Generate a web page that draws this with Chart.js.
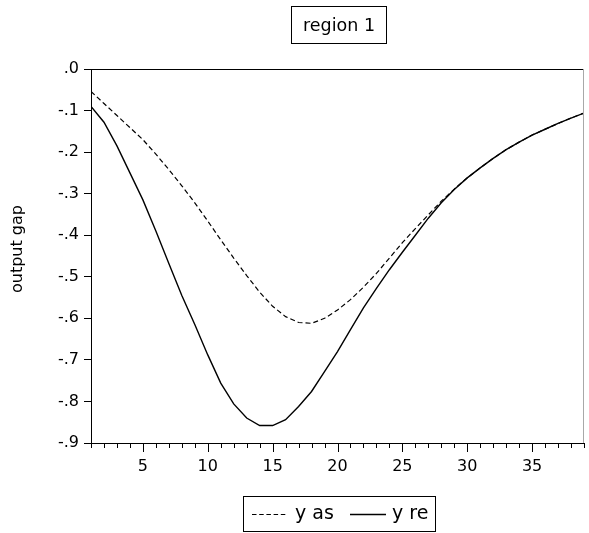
<!DOCTYPE html>
<html>
<head>
<meta charset="utf-8">
<title>region 1</title>
<script src="https://cdn.jsdelivr.net/npm/chart.js@4"></script>
<style>
	html, body { margin: 0; padding: 0; background: #fff; }
	canvas { display: block; }
</style>
</head>
<body>
<canvas id="chart" width="589" height="533"></canvas>
<script>
// --- data ------------------------------------------------------------------

const chartTitle = 'region 1';
const yAxisTitle = 'output gap';
const seriesNames = ['y as', 'y re'];

const periods = [1, 2, 3, 4, 5, 6, 7, 8, 9, 10, 11, 12, 13, 14, 15, 16, 17, 18, 19, 20,
	21, 22, 23, 24, 25, 26, 27, 28, 29, 30, 31, 32, 33, 34, 35, 36, 37, 38, 39];

const yAs = [-0.054, -0.083, -0.112, -0.141, -0.170, -0.205, -0.242, -0.281, -0.322, -0.366,
	-0.411, -0.455, -0.497, -0.537, -0.571, -0.596, -0.610, -0.612, -0.600, -0.580,
	-0.555, -0.525, -0.492, -0.455, -0.418, -0.384, -0.351, -0.318, -0.289, -0.262,
	-0.238, -0.215, -0.194, -0.176, -0.159, -0.145, -0.131, -0.118, -0.106];

const yRe = [-0.090, -0.128, -0.185, -0.250, -0.315, -0.390, -0.468, -0.545, -0.615, -0.688,
	-0.756, -0.806, -0.840, -0.858, -0.858, -0.844, -0.812, -0.776, -0.728, -0.680,
	-0.627, -0.575, -0.528, -0.483, -0.441, -0.400, -0.359, -0.322, -0.290, -0.262,
	-0.238, -0.215, -0.194, -0.176, -0.159, -0.145, -0.131, -0.118, -0.106];

const yTickValues = [0, -0.1, -0.2, -0.3, -0.4, -0.5, -0.6, -0.7, -0.8, -0.9];
const xLabelEvery = 5;

// --- helpers ---------------------------------------------------------------

const FONT = '"DejaVu Sans", Arial, sans-serif';
const dashAs = [5, 3];

function points(values) {
	return periods.map((p, i) => ({ x: p, y: values[i] }));
}

function fmtTick(v) {
	const tenth = Math.round(v * 10);
	if (tenth === 0) return '.0';
	return (tenth < 0 ? '-' : '') + '.' + Math.abs(tenth);
}

// --- decorations (frame, x ticks, title box, legend box) -------------------

const decorations = {
	id: 'decorations',
	afterDraw(chart) {
		const ctx = chart.ctx;
		const area = chart.chartArea;
		const xs = chart.scales.x;

		ctx.save();
		ctx.lineWidth = 1;

		// top and right edges of the plot box
		ctx.strokeStyle = '#000';
		ctx.beginPath();
		ctx.moveTo(area.left, area.top + 0.5);
		ctx.lineTo(area.right, area.top + 0.5);
		ctx.stroke();
		ctx.strokeStyle = '#a8a8a8';
		ctx.beginPath();
		ctx.moveTo(area.right - 0.5, area.top);
		ctx.lineTo(area.right - 0.5, area.bottom);
		ctx.stroke();

		// x ticks, longer at the labelled ones
		ctx.strokeStyle = '#000';
		ctx.beginPath();
		periods.forEach(p => {
			const px = Math.round(xs.getPixelForValue(p)) + 0.5;
			const len = p % xLabelEvery === 0 ? 9 : 5;
			ctx.moveTo(px, area.bottom);
			ctx.lineTo(px, area.bottom + len);
		});
		ctx.stroke();

		// y axis title
		ctx.fillStyle = '#000';
		ctx.font = '16px ' + FONT;
		ctx.textAlign = 'center';
		ctx.textBaseline = 'middle';
		ctx.save();
		ctx.translate(17.5, 249);
		ctx.rotate(-Math.PI / 2);
		ctx.fillText(yAxisTitle, 0, 0);
		ctx.restore();

		// boxed title
		ctx.strokeRect(291.5, 6.5, 95, 37);
		ctx.font = '17.5px ' + FONT;
		ctx.fillText(chartTitle, 339, 26);

		// boxed legend
		ctx.strokeRect(243.5, 496.5, 192, 35);
		ctx.font = '19px ' + FONT;
		ctx.textAlign = 'left';
		const ly = 514.5;
		const samples = [
			{ x: 252, dash: [4.5, 2.7], width: 1.2, label: seriesNames[0], tx: 295 },
			{ x: 350, dash: [], width: 1.3, label: seriesNames[1], tx: 392 }
		];
		samples.forEach(s => {
			ctx.setLineDash(s.dash);
			ctx.lineWidth = s.width;
			ctx.beginPath();
			ctx.moveTo(s.x, ly);
			ctx.lineTo(s.x + 36, ly);
			ctx.stroke();
			ctx.setLineDash([]);
			ctx.fillText(s.label, s.tx, ly);
		});

		ctx.restore();
	}
};

// --- chart -----------------------------------------------------------------

function initChart() {
	const canvas = document.getElementById('chart');

	new Chart(canvas.getContext('2d'), {
		type: 'line',
		data: {
			datasets: [
				{ label: seriesNames[0], data: points(yAs), borderColor: '#000', borderWidth: 1.2,
				  borderDash: dashAs, pointRadius: 0, tension: 0, fill: false },
				{ label: seriesNames[1], data: points(yRe), borderColor: '#000', borderWidth: 1.4,
				  pointRadius: 0, tension: 0, fill: false }
			]
		},
		options: {
			responsive: false,
			animation: false,
			devicePixelRatio: 1,
			layout: { padding: { left: 0, top: 69, right: 2, bottom: 0 } },
			plugins: {
				legend: { display: false },
				title: { display: false },
				tooltip: { enabled: false }
			},
			scales: {
				x: {
					type: 'linear',
					min: periods[0],
					max: periods[periods.length - 1],
					afterFit: s => { s.height = 90; },
					grid: { display: false, tickLength: 9 },
					border: { display: true, color: '#000', width: 1 },
					ticks: {
						stepSize: 1,
						autoSkip: false,
						maxRotation: 0,
						padding: 5,
						color: '#000',
						font: { family: FONT, size: 16 },
						callback: v => (v % xLabelEvery === 0 ? String(v) : '')
					}
				},
				y: {
					type: 'linear',
					min: yTickValues[yTickValues.length - 1],
					max: yTickValues[0],
					afterFit: s => { s.width = 91; },
					afterBuildTicks: s => { s.ticks = yTickValues.map(v => ({ value: v })); },
					grid: { display: true, drawOnChartArea: false, drawTicks: true, tickLength: 7, color: '#000' },
					border: { display: true, color: '#000', width: 1 },
					ticks: {
						padding: 5,
						color: '#000',
						font: { family: FONT, size: 16 },
						callback: v => fmtTick(v)
					}
				}
			}
		},
		plugins: [decorations]
	});
}

if (document.readyState === 'loading') {
	document.addEventListener('DOMContentLoaded', initChart);
} else {
	initChart();
}
</script>
</body>
</html>
